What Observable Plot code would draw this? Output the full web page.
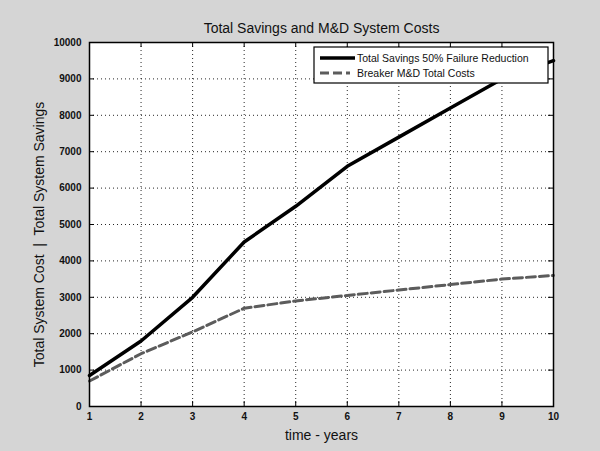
<!DOCTYPE html>
<html><head><meta charset="utf-8">
<script src="https://cdn.jsdelivr.net/npm/d3@7"></script>
<script src="https://cdn.jsdelivr.net/npm/@observablehq/plot@0.6"></script>
<style>
body{margin:0;background:#d5d5d5;}
#chart svg{display:block;}
</style>
</head><body><div id="chart"></div>
<script>
const years = [1, 2, 3, 4, 5, 6, 7, 8, 9, 10];
const totalSavings = [850, 1800, 3000, 4520, 5500, 6600, 7400, 8200, 9000, 9500];
const breakerCosts = [700, 1450, 2050, 2700, 2900, 3050, 3200, 3350, 3500, 3600];
const xTicks = [1, 2, 3, 4, 5, 6, 7, 8, 9, 10];
const yTicks = [0, 1000, 2000, 3000, 4000, 5000, 6000, 7000, 8000, 9000, 10000];
const seriesNames = ["Total Savings 50% Failure Reduction", "Breaker M&D Total Costs"];
const titleText = "Total Savings and M&D System Costs";
const xLabel = "time - years";
const yLabel = "Total System Cost  |  Total System Savings";

const savingsData = years.map((t, i) => ({t, v: totalSavings[i], s: seriesNames[0]}));
const costData = years.map((t, i) => ({t, v: breakerCosts[i], s: seriesNames[1]}));

const W = 600, H = 451, mL = 89, mR = 47, mT = 42, mB = 45;
const plotH = H - mT - mB, plotW = W - mL - mR;
const font = "'Liberation Sans', Arial, Helvetica, sans-serif";

const chart = Plot.plot({
  width: W, height: H,
  marginLeft: mL, marginRight: mR, marginTop: mT, marginBottom: mB,
  style: {background: "#d5d5d5", fontFamily: font, fontSize: "10px", color: "#111"},
  x: {domain: [1, 10], ticks: xTicks},
  y: {domain: [0, 10000], ticks: yTicks},
  marks: [
    Plot.frame({fill: "white", stroke: "none"}),
    Plot.gridX(xTicks, {stroke: "#000", strokeOpacity: 0.85, strokeDasharray: "1,3"}),
    Plot.gridY(yTicks, {stroke: "#000", strokeOpacity: 0.85, strokeDasharray: "1,3"}),
    Plot.tickX(xTicks, {x: d => d, insetTop: plotH - 5, stroke: "#000"}),
    Plot.tickX(xTicks, {x: d => d, insetBottom: plotH - 5, stroke: "#000"}),
    Plot.tickY(yTicks, {y: d => d, insetRight: plotW - 5, stroke: "#000"}),
    Plot.tickY(yTicks, {y: d => d, insetLeft: plotW - 5, stroke: "#000"}),
    Plot.line(costData, {x: "t", y: "v", stroke: "#5c5c5c", strokeWidth: 3, strokeDasharray: "9,4"}),
    Plot.line(savingsData, {x: "t", y: "v", stroke: "#000", strokeWidth: 3.5}),
    Plot.frame({stroke: "#000", strokeWidth: 1.5}),
    Plot.axisX(xTicks, {tickSize: 0, tickPadding: 6, label: null, fontWeight: "bold"}),
    Plot.axisY(yTicks, {tickSize: 0, tickPadding: 8, label: null, fontWeight: "bold", tickFormat: d => String(d)}),
    Plot.text([titleText], {frameAnchor: "top", lineAnchor: "middle", dy: -14, fontSize: 14, fill: "#111"}),
    Plot.text([xLabel], {frameAnchor: "bottom", lineAnchor: "middle", dy: 29, fontSize: 14, fill: "#111"}),
    Plot.text([yLabel], {frameAnchor: "left", textAnchor: "middle", lineAnchor: "middle", dx: -50, dy: 10, rotate: -90, fontSize: 14, fill: "#111"})
  ]
});
document.getElementById("chart").append(chart);

// legend drawn inside the axes box (top-right), MATLAB style
const svg = d3.select(chart);
const lw = 234, lh = 36;
const lx = W - mR - 5 - lw, ly = mT + 5;
const g = svg.append("g").attr("font-family", font).attr("font-size", 10.5).attr("text-anchor", "start");
g.append("rect").attr("x", lx).attr("y", ly).attr("width", lw).attr("height", lh)
  .attr("fill", "white").attr("stroke", "#000").attr("stroke-width", 1.2);
const styles = [
  {stroke: "#000", width: 3.5, dash: null, len: 35},
  {stroke: "#5c5c5c", width: 3, dash: "9,4", len: 30}
];
seriesNames.forEach((name, i) => {
  const yy = ly + 11 + i * 15;
  g.append("line").attr("x1", lx + 6).attr("x2", lx + 6 + styles[i].len)
    .attr("y1", yy).attr("y2", yy).attr("stroke", styles[i].stroke)
    .attr("stroke-width", styles[i].width).attr("stroke-dasharray", styles[i].dash);
  g.append("text").attr("x", lx + 43).attr("y", yy).attr("dy", "0.35em")
    .attr("text-anchor", "start").attr("fill", "#111").text(name);
});
</script>
</body></html>
